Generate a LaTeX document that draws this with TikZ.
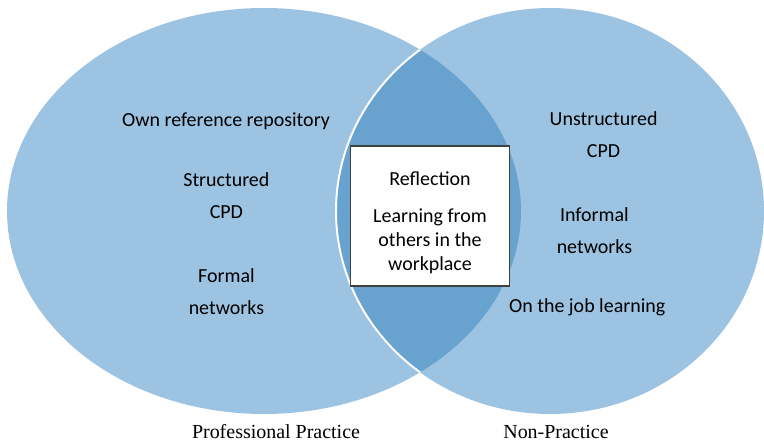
\documentclass[tikz,border=0pt]{standalone}
\usepackage{fontspec}
\setmainfont{Carlito}
\newfontfamily\setfont{Liberation Serif}
\usepackage{xcolor}
\usetikzlibrary{positioning}

\definecolor{setblue}{RGB}{157,195,226}
\definecolor{overlapblue}{RGB}{104,163,208}
\definecolor{boxgray}{RGB}{64,64,64}

\begin{document}
\begin{tikzpicture}[
    item/.style={font=\fontsize{14.2}{22.5}\selectfont, align=center, anchor=base},
    boxitem/.style={font=\fontsize{14.2}{17}\selectfont, align=center, anchor=base},
    setname/.style={font=\setfont\fontsize{14.2}{17}\selectfont, anchor=base}
]
    \useasboundingbox (0,0) rectangle (19.1,11.1);

    % Professional practice set
    \fill[setblue] (6.6,5.825) ellipse (6.425 and 5.075);
    % Non-practice set
    \fill[setblue] (13.75,5.825) ellipse (5.35 and 5.075);

    % Overlap of both sets
    \begin{scope}
        \clip (6.6,5.825) ellipse (6.425 and 5.075);
        \fill[overlapblue] (13.75,5.825) ellipse (5.35 and 5.075);
        \draw[white, line width=1.4pt] (13.75,5.825) ellipse (5.35 and 5.075);
    \end{scope}

    % Shared box (base of a multi-line node sits on its last line)
    \node[draw=boxgray, line width=0.8pt, fill=white,
          minimum width=3.975cm, minimum height=3.5cm] (shared) at (10.76,5.70) {};
    \node[boxitem] (reflection) at (10.75,6.475) {Reflection};
    \node[boxitem] (others) at (10.75,4.35) {Learning from\\others in the\\workplace};

    % Left items
    \node[item] (repository) at (5.65,7.93) {Own reference repository};
    \node[item] (structured) at (5.66,5.64) {Structured\\CPD};
    \node[item] (formal) at (5.66,3.24) {Formal\\networks};

    % Right items
    \node[item] (unstructured) at (15.09,7.17) {Unstructured\\CPD};
    \node[item] (informal) at (14.86,4.77) {Informal\\networks};
    \node[item] (onthejob) at (14.68,3.29) {On the job learning};

    % Set names
    \node[setname] (professional) at (6.9,0.15) {Professional Practice};
    \node[setname] (nonpractice) at (13.9,0.15) {Non-Practice};
\end{tikzpicture}
\end{document}
